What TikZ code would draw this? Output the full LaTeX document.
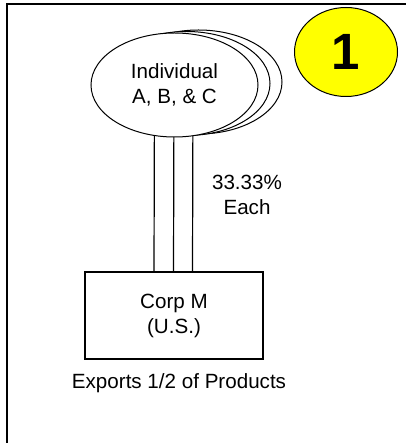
\documentclass[tikz,border=0pt]{standalone}
\usepackage{fontspec}
\setmainfont{Liberation Sans}
\usetikzlibrary{shapes.geometric,backgrounds}
\definecolor{badgeyellow}{RGB}{255,255,0}
\tikzset{
  txt/.style={font=\fontsize{20.6bp}{25bp}\selectfont, align=center, inner sep=0pt},
  person/.style={ellipse, draw, fill=white, line width=1bp, minimum width=167bp, minimum height=104bp, inner sep=0pt},
  corp/.style={rectangle, draw, line width=1.2bp, minimum width=178bp, minimum height=87bp, inner sep=0pt},
  badge/.style={ellipse, draw, fill=badgeyellow, line width=1bp, minimum width=103bp, minimum height=89bp, inner sep=0pt},
  own/.style={draw, line width=1.2bp},
  frame/.style={draw, line width=2.3bp, line join=miter}
}
\begin{document}
\begin{tikzpicture}[x=1bp,y=-1bp]
\useasboundingbox (0,0) rectangle (406,443);
\draw[frame] (7,443) -- (7,4) -- (406,4);
% stacked ellipses
\node[person] (indC) at (198.5,82) {};
\node[person] (indB) at (186.5,83.5) {};
\node[person, txt, minimum width=167bp, minimum height=104bp] (ind) at (174.5,85) {Individual\\A, B, \& C};
% corporation
\node[corp, txt] (corpm) at (174,315.5) {Corp M\\(U.S.)};
% ownership lines
\begin{scope}[on background layer]
\draw[own] ([xshift=-20bp]ind.center) -- ([xshift=-20bp]corpm.north);
\draw[own] ([xshift=-0.5bp]ind.center) -- ([xshift=-0.5bp]corpm.north);
\draw[own] ([xshift=18.5bp]ind.center) -- ([xshift=18.5bp]corpm.north);
\end{scope}
\node[txt] (pct) at (247,195) {33.33\%\\Each};
\node[txt] (exp) at (179,383) {Exports 1/2 of Products};
\node[badge, font=\fontsize{51bp}{51bp}\selectfont\bfseries] (one) at (346,52) {1};
\end{tikzpicture}
\end{document}
